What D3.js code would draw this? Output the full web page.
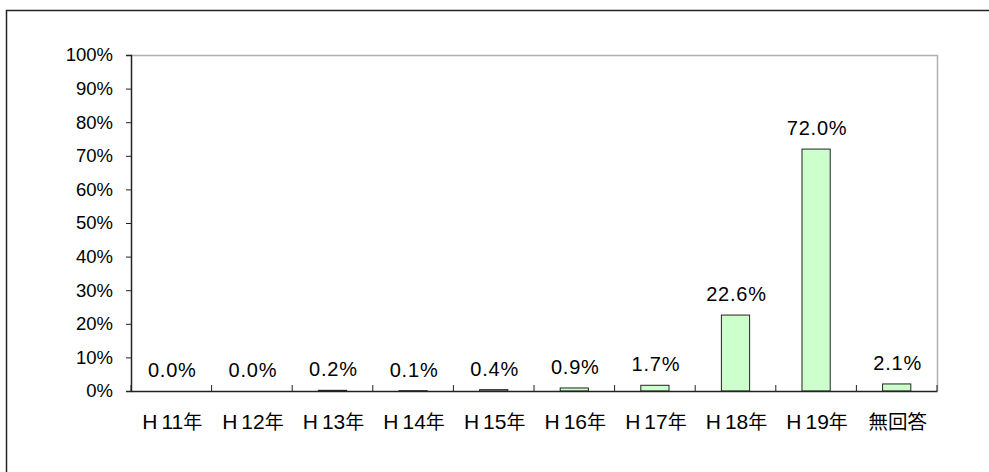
<!DOCTYPE html>
<html><head><meta charset="utf-8">
<script src="https://cdn.jsdelivr.net/npm/d3@7"></script>
<style>body{margin:0;background:#fff}svg{display:block}</style>
</head><body>
<svg id="c" width="989" height="472"></svg>
<script>
const categories = ["H11年","H12年","H13年","H14年","H15年","H16年","H17年","H18年","H19年","無回答"];
const values = [0.0, 0.0, 0.2, 0.1, 0.4, 0.9, 1.7, 22.6, 72.0, 2.1];
const yTicks = [0,10,20,30,40,50,60,70,80,90,100];

const svg = d3.select("#c");
const L=131, R=937, T=55, B=391;
const font = "'Liberation Sans', Arial, 'Noto Sans CJK JP', sans-serif";
const cjk = "'Noto Sans CJK JP', sans-serif";

svg.append("rect").attr("x",6.5).attr("y",10.5).attr("width",1100).attr("height",600)
  .attr("fill","none").attr("stroke","#222").attr("stroke-width",1.5);

const x = d3.scaleBand().domain(categories).range([L,R]);
const y = d3.scaleLinear().domain([0,100]).range([B,T]);

// plot border (top/right)
svg.append("path").attr("d",`M${L},${T+0.5}H${R+0.5}V${B}`).attr("fill","none").attr("stroke","#b0b0b0").attr("stroke-width",1.5);

// bars
const bw = x.bandwidth()*0.35;
svg.selectAll(".bar").data(values).join("rect")
  .attr("x",(d,i)=>x(categories[i])+x.bandwidth()/2-bw/2)
  .attr("y",d=>y(d))
  .attr("width",bw).attr("height",d=>B-y(d))
  .attr("fill","#ccffcc").attr("stroke","#222").attr("stroke-width",1);

// y axis
const ya = svg.append("g").attr("transform",`translate(${L},0)`)
  .call(d3.axisLeft(y).tickValues(yTicks).tickSize(5).tickPadding(13).tickFormat(d=>d+"%"));
ya.select(".domain").attr("stroke","#222").attr("stroke-width",1.5);
ya.selectAll(".tick line").attr("stroke","#222");
ya.selectAll("text").attr("font-family",font).attr("font-size",18.5).attr("fill","#000");

// x axis
const xa = svg.append("g").attr("transform",`translate(0,${B})`)
  .call(d3.axisBottom(x).tickSize(0).tickPadding(0).tickFormat(""));
xa.select(".domain").attr("stroke","#222").attr("stroke-width",1.5);
xa.selectAll(".tick").remove();
const bounds = d3.range(categories.length+1).map(i=>L+i*x.step());
svg.selectAll(".xt").data(bounds).join("line")
  .attr("x1",d=>d).attr("x2",d=>d).attr("y1",B).attr("y2",B-6).attr("stroke","#222");

// x labels
svg.selectAll(".xl").data(categories).join("text")
  .attr("x",d=>x(d)+x.bandwidth()/2+1).attr("y",429)
  .attr("text-anchor","middle").attr("font-family",font).attr("font-size",21).attr("fill","#000")
  .each(function(d){
    const t=d3.select(this);
    if(d.startsWith("H")){
      t.append("tspan").text("H");
      t.append("tspan").attr("dx",4).text(d.slice(1,-1));
      t.append("tspan").attr("font-family",cjk).attr("font-size",19).text(d.slice(-1));
    } else t.append("tspan").attr("font-family",cjk).attr("font-size",19.5).text(d);
  });

// data labels
svg.selectAll(".dl").data(values).join("text")
  .attr("x",(d,i)=>x(categories[i])+x.bandwidth()/2+1)
  .attr("y",d=>y(d)-14)
  .attr("text-anchor","middle").attr("font-family",font).attr("font-size",20)
  .attr("letter-spacing",0.8).attr("fill","#000")
  .text(d=>d.toFixed(1)+"%");
</script>
</body></html>
